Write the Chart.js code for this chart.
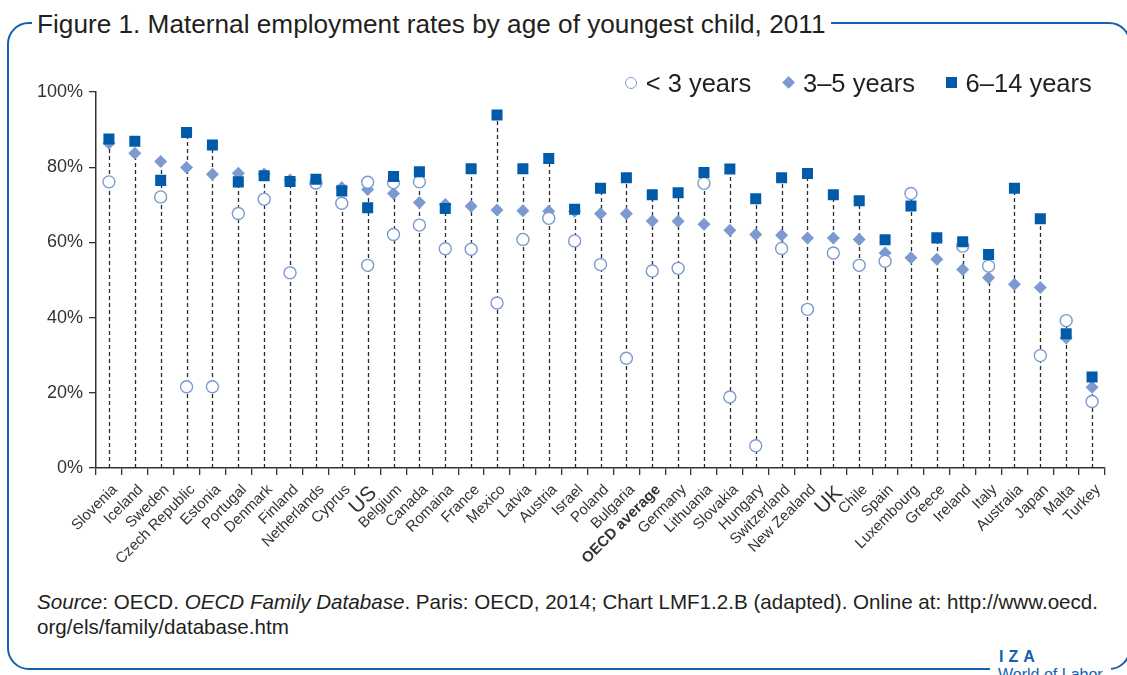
<!DOCTYPE html>
<html lang="en">
<head>
<meta charset="UTF-8">
<title>Maternal employment rates by age of youngest child, 2011</title>
<style>
  body {
    margin: 0;
    width: 1127px;
    height: 675px;
    overflow: hidden;
    position: relative;
    background: #fff;
    font-family: "Liberation Sans", Arial, sans-serif;
    color: #231f20;
  }
  .frame {
    position: absolute;
    left: 7px;
    top: 22px;
    width: 1124px;
    height: 648px;
    box-sizing: border-box;
    border: 2.7px solid #1461b0;
    border-radius: 22px;
  }
  .title {
    position: absolute;
    left: 32px;
    top: 9px;
    padding: 0 5px;
    background: #fff;
    font-size: 26.2px;
    line-height: 30px;
    white-space: nowrap;
  }
  .chart-box {
    position: absolute;
    left: 0;
    top: 60px;
    width: 1127px;
    height: 510px;
  }
  /* legend */
  .lg-text {
    position: absolute;
    top: 69px;
    font-size: 25.5px;
    line-height: 28px;
    white-space: nowrap;
  }
  .lg-mark { position: absolute; box-sizing: border-box; }
  .lg-circle { left: 625px; top: 76.5px; width: 12px; height: 12px; border: 1.4px solid #7b9bd0; border-radius: 50%; background: #fff; }
  .lg-diamond { left: 783.9px; top: 78px; width: 9.2px; height: 9.2px; background: #7b9bd0; transform: rotate(45deg); }
  .lg-square { left: 946.2px; top: 77.3px; width: 10.5px; height: 10.5px; background: #005cab; }
  .source {
    position: absolute;
    left: 37px;
    top: 589px;
    font-size: 20.6px;
    line-height: 25px;
    white-space: nowrap;
  }
  .logo {
    position: absolute;
    left: 990px;
    top: 645px;
    width: 121px;
    height: 30px;
    background: #fff;
    color: #1461b0;
    overflow: hidden;
  }
  .logo .iza { position: absolute; left: 9px; top: 3px; font-size: 16px; font-weight: bold; letter-spacing: 5px; line-height: 18px; }
  .logo .wol { position: absolute; left: 8px; top: 21px; font-size: 16px; line-height: 18px; white-space: nowrap; }
</style>
</head>
<body>

<div class="frame"></div>
<div class="title">Figure 1. Maternal employment rates by age of youngest child, 2011</div>

<div class="chart-box"><canvas id="chart"></canvas></div>

<span class="lg-mark lg-circle"></span><span class="lg-text" style="left:645.7px">&lt; 3 years</span>
<span class="lg-mark lg-diamond"></span><span class="lg-text" style="left:803px">3–5 years</span>
<span class="lg-mark lg-square"></span><span class="lg-text" style="left:965.6px">6–14 years</span>

<div class="source"><i>Source</i>: OECD. <i>OECD Family Database</i>. Paris: OECD, 2014; Chart LMF1.2.B (adapted). Online at: http://www.oecd.<br>org/els/family/database.htm</div>

<div class="logo"><span class="iza">IZA</span><span class="wol">World of Labor</span></div>

<script src="https://cdn.jsdelivr.net/npm/chart.js"></script>
<script>
    const countries = ["Slovenia", "Iceland", "Sweden", "Czech Republic", "Estonia", "Portugal", "Denmark",
        "Finland", "Netherlands", "Cyprus", "US", "Belgium", "Canada", "Romaina", "France", "Mexico", "Latvia",
        "Austria", "Israel", "Poland", "Bulgaria", "OECD average", "Germany", "Lithuania", "Slovakia", "Hungary",
        "Switzerland", "New Zealand", "UK", "Chile", "Spain", "Luxembourg", "Greece", "Ireland", "Italy",
        "Australia", "Japan", "Malta", "Turkey"];

    // < 3 years
    const under3 = [76.1, null, 72.1, 21.6, 21.6, 67.7, 71.5, 51.9, 75.8, 70.4, 53.9, 62.1, 64.6, 58.3, 58.2,
        43.9, 60.8, 66.4, 60.4, 54.1, 29.2, 52.4, 53.1, 75.7, 18.9, 5.9, 58.4, 42.2, 57.2, 53.9, 55.0, 73.0,
        null, 59.0, 53.7, null, 29.9, 39.2, 17.7];
    // second open circle shown for US, Belgium and Canada
    const under3Second = [null, null, null, null, null, null, null, null, null, null, 76.0, 75.9, 76.1, null,
        null, null, null, null, null, null, null, null, null, null, null, null, null, null, null, null, null,
        null, null, null, null, null, null, null, null];
    // 3-5 years
    const age3to5 = [86.4, 83.7, 81.5, 79.9, 78.1, 78.4, 78.2, 76.6, 75.9, 74.6, 74.1, 73.0, 70.6, 70.1, 69.6,
        68.6, 68.4, 68.3, 68.3, 67.6, 67.6, 65.7, 65.6, 64.8, 63.2, 62.1, 61.9, 61.2, 61.2, 60.8, 57.2, 55.9,
        55.5, 52.8, 50.6, 48.9, 48.0, 34.6, 21.5];
    // 6-14 years
    const age6to14 = [87.5, 86.9, 76.5, 89.2, 85.9, 76.1, 77.7, 76.2, 76.8, 73.7, 69.2, 77.5, 78.8, 69.0, 79.6,
        93.9, 79.6, 82.3, 68.8, 74.4, 77.2, 72.7, 73.2, 78.6, 79.5, 71.6, 77.2, 78.3, 72.7, 71.1, 60.7, 69.7,
        61.2, 60.2, 56.8, 74.4, 66.3, 35.7, 24.2];

    const yTickValues = [0, 20, 40, 60, 80, 100];

    const bigLabels = ["US", "UK"];
    const boldLabels = ["OECD average"];

    const SQUARE = '#005cab';
    const LIGHT = '#7b9bd0';
    const AXIS = '#333333';

    Chart.defaults.font.family = '"Liberation Sans", Arial, sans-serif';

    function tickFont(name) {
        if (bigLabels.includes(name)) return { size: 21 };
        if (boldLabels.includes(name)) return { size: 15, weight: 'bold' };
        return { size: 15 };
    }

    // dashed drop line from the highest marker of each country down to 0%
    const dropLines = {
        id: 'dropLines',
        beforeDatasetsDraw(chart) {
            const { ctx, scales: { x, y } } = chart;
            ctx.save();
            ctx.strokeStyle = '#2b2b2b';
            ctx.lineWidth = 1.3;
            ctx.setLineDash([4, 3]);
            countries.forEach((c, i) => {
                const vals = [under3[i], under3Second[i], age3to5[i], age6to14[i]].filter(v => v != null);
                const px = Math.round(x.getPixelForValue(i)) + 0.5;
                ctx.beginPath();
                ctx.moveTo(px, y.getPixelForValue(0));
                ctx.lineTo(px, y.getPixelForValue(Math.max(...vals)));
                ctx.stroke();
            });
            ctx.restore();
        }
    };

    const circleStyle = {
        pointStyle: 'circle', pointRadius: 6, pointBackgroundColor: '#fff',
        pointBorderColor: LIGHT, pointBorderWidth: 1.4, order: 1
    };

    new Chart(document.getElementById('chart'), {
        type: 'line',
        data: {
            labels: countries,
            datasets: [
                { label: '6–14 years', data: age6to14, pointStyle: 'rect', pointRadius: 7.8,
                  pointBackgroundColor: SQUARE, pointBorderWidth: 0, order: 0 },
                { label: '< 3 years', data: under3, ...circleStyle },
                { label: '< 3 years', data: under3Second, ...circleStyle },
                { label: '3–5 years', data: age3to5, pointStyle: 'rectRot', pointRadius: 6.5,
                  pointBackgroundColor: LIGHT, pointBorderWidth: 0, order: 2 }
            ].map(d => ({ ...d, showLine: false }))
        },
        options: {
            responsive: true,
            maintainAspectRatio: false,
            animation: false,
            events: [],
            layout: { padding: { top: 32, right: 22, left: 0, bottom: 0 } },
            plugins: {
                legend: { display: false },
                tooltip: { enabled: false }
            },
            scales: {
                x: {
                    offset: true,
                    grid: { offset: true, drawOnChartArea: false, tickLength: 7, color: AXIS, lineWidth: 1.3 },
                    border: { color: AXIS, width: 1.5 },
                    ticks: {
                        autoSkip: false,
                        maxRotation: 45,
                        minRotation: 45,
                        padding: 6,
                        labelOffset: 6,
                        color: '#333',
                        font: ctx => tickFont(countries[ctx.index])
                    },
                    afterFit: s => { s.height = 102; }
                },
                y: {
                    min: 0,
                    max: 100,
                    afterBuildTicks: s => { s.ticks = yTickValues.map(v => ({ value: v })); },
                    grid: { drawOnChartArea: false, tickLength: 7, color: AXIS, lineWidth: 1.3 },
                    border: { color: AXIS, width: 1.5 },
                    ticks: {
                        padding: 6,
                        color: '#333',
                        font: { size: 18 },
                        callback: v => v + '%'
                    },
                    afterFit: s => { s.width = 96; }
                }
            }
        },
        plugins: [dropLines]
    });
</script>
</body>
</html>
